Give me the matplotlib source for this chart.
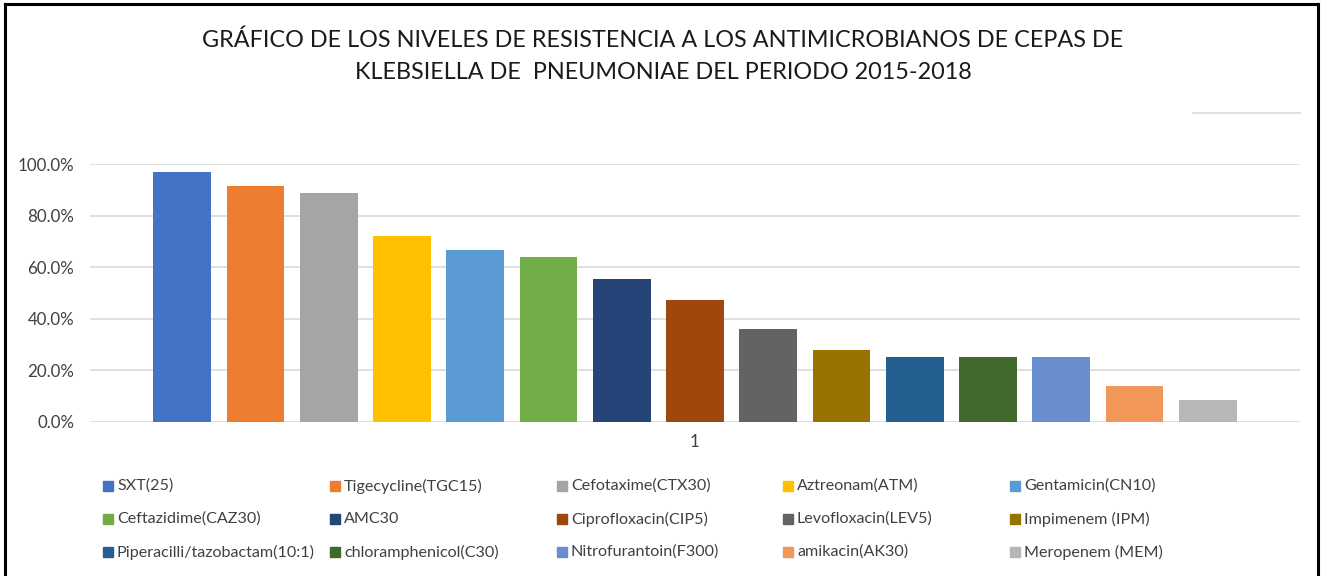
import matplotlib.pyplot as plt
from matplotlib.lines import Line2D
from matplotlib.patches import Rectangle
from matplotlib.ticker import PercentFormatter

# datos: niveles de resistencia (%) por antimicrobiano
antibioticos = ['SXT(25)', 'Tigecycline(TGC15)', 'Cefotaxime(CTX30)', 'Aztreonam(ATM)',
                'Gentamicin(CN10)', 'Ceftazidime(CAZ30)', 'AMC30', 'Ciprofloxacin(CIP5)',
                'Levofloxacin(LEV5)', 'Impimenem (IPM)', 'Piperacilli/tazobactam(10:1)',
                'chloramphenicol(C30)', 'Nitrofurantoin(F300)', 'amikacin(AK30)',
                'Meropenem (MEM)']
resistencia = [97.2, 91.7, 88.9, 72.2, 66.7, 63.9, 55.6, 47.2, 36.1, 27.8, 25.0, 25.0, 25.0, 13.9, 8.3]
colores = ['#4472C4', '#ED7D31', '#A5A5A5', '#FFC000', '#5B9BD5', '#70AD47', '#264478',
           '#9E480E', '#636363', '#997300', '#255E91', '#43682B', '#698ED0', '#F1975A', '#B7B7B7']
titulo = ('GRÁFICO DE LOS NIVELES DE RESISTENCIA A LOS ANTIMICROBIANOS DE CEPAS DE\n'
          'KLEBSIELLA DE  PNEUMONIAE DEL PERIODO 2015-2018')

plt.rcParams['font.family'] = ['Lato', 'DejaVu Sans']

W, H = 1324, 576
fig = plt.figure(figsize=(W / 100, H / 100), dpi=100)
ax = fig.add_axes([90 / W, 1 - 421.7 / H, 1210 / W, 257.4 / H])

x = list(range(len(resistencia)))
ax.bar(x, [v / 100 for v in resistencia], width=0.79, color=colores, zorder=3)
ax.set_xlim(-1.26, 15.26)
ax.set_ylim(0, 1.0)
ax.set_yticks([0, 0.2, 0.4, 0.6, 0.8, 1.0])
ax.yaxis.set_major_formatter(PercentFormatter(1.0, decimals=1))
ax.set_xticks([7])
ax.set_xticklabels(['1'])
ax.tick_params(axis='both', length=0, labelsize=12.2, colors='#404040')
ax.tick_params(axis='y', pad=11.5)
ax.tick_params(axis='x', pad=9)
ax.grid(axis='y', color='#d9d9d9', linewidth=1.2, zorder=0)
for s in ax.spines.values():
    s.set_visible(False)

fig.text(663 / W, 1 - 56 / H, titulo, ha='center', va='center', fontsize=16.8,
         color='#1a1a1a', linespacing=1.62)

# leyenda manual en 5 columnas de igual ancho
col_x = [103, 330, 557, 783, 1010]
fil_y = [486, 519, 552]
for i, (nom, c) in enumerate(zip(antibioticos, colores)):
    cx = col_x[i % 5]
    cy = fil_y[i // 5]
    fig.patches.append(Rectangle((cx / W, 1 - (cy + 5) / H), 10 / W, 10 / H,
                                 transform=fig.transFigure, color=c))
    fig.text((cx + 14) / W, 1 - cy / H, nom, ha='left', va='center', fontsize=11.6,
             color='#404040')

# marco exterior y linea gris superior
bk = dict(transform=fig.transFigure, color='black', linewidth=2.2)
fig.lines.append(Line2D([5 / W, 5 / W], [0, 1 - 4 / H], **bk))
fig.lines.append(Line2D([5 / W, 1318 / W], [1 - 4 / H, 1 - 4 / H], **bk))
fig.lines.append(Line2D([1318 / W, 1318 / W], [0, 1 - 4 / H], **bk))
fig.lines.append(Line2D([1193 / W, 1300 / W], [1 - 113 / H, 1 - 113 / H],
                        transform=fig.transFigure, color='#d9d9d9', linewidth=1.2))

fig.savefig('out.png', dpi=100)
